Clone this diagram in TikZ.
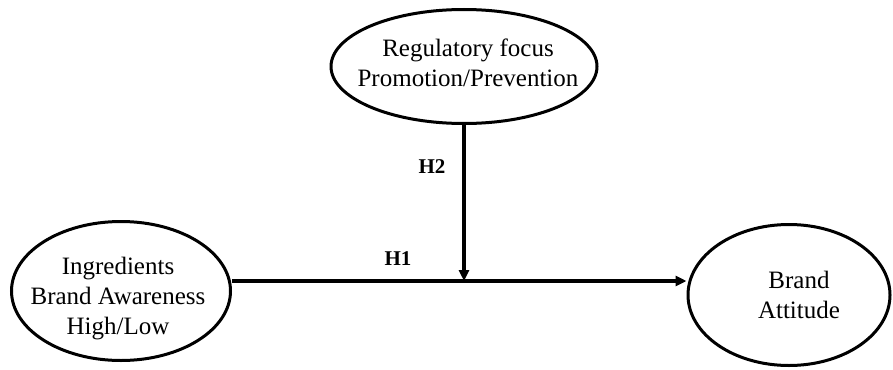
\documentclass[tikz,border=0pt]{standalone}
\usepackage{fontspec}
\setmainfont{Liberation Serif}
\usetikzlibrary{shapes.geometric,arrows.meta}
\begin{document}
\begin{tikzpicture}[x=1pt,y=1pt,
  var/.style={ellipse,draw,line width=3pt,inner sep=0pt},
  txt/.style={align=center,inner sep=0pt,font=\fontsize{25}{30}\selectfont},
  link/.style={line width=3.2pt,-{Triangle[length=11pt,width=10pt]}},
  hyp/.style={font=\bfseries\fontsize{21}{24}\selectfont}]
\useasboundingbox (0,0) rectangle (893,-369);
\node[var,minimum width=266pt,minimum height=114pt] (reg) at (464,-66.5) {};
\node[txt] (regt) at (468,-63) {Regulatory focus\\Promotion/Prevention};
\node[var,minimum width=219pt,minimum height=139pt] (ing) at (121,-291) {};
\node[txt] (ingt) at (118,-299) {Ingredients\\Brand Awareness\\High/Low};
\node[var,minimum width=202pt,minimum height=141pt] (att) at (789,-295) {};
\node[txt] (attt) at (799,-294.5) {Brand\\Attitude};
\coordinate (j) at (464,-281);
\draw[line width=3.2pt] (ing.east |- j) -- (j);
\draw[link] (j) -- (att.west |- j);
\draw[link] (reg.south) -- (j);
\node[hyp] (h2) at (432,-167) {H2};
\node[hyp] (h1) at (398,-259) {H1};
\end{tikzpicture}
\end{document}
